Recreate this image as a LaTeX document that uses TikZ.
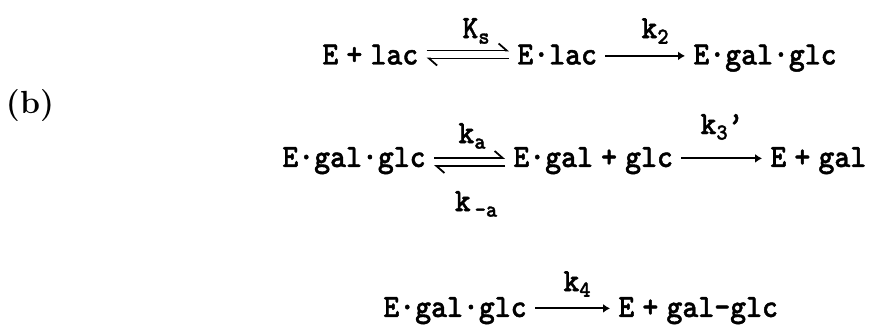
\documentclass[tikz,border=0pt]{standalone}
\usepackage{fontspec}
\usepackage{tikz}
\usetikzlibrary{arrows.meta}
\newfontfamily\chemfont{lmmonolt10-bold.otf}[FakeBold=1.3,FakeStretch=0.93]
\newcommand\chsub[1]{\raisebox{-0.4ex}{\fontsize{11.5}{12}\selectfont #1}}
\tikzset{
  chem/.style={anchor=west,inner xsep=4pt,inner ysep=0pt,text height=10pt,text depth=0pt,
    font=\fontsize{16.3}{18}\selectfont\chemfont},
  rate/.style={inner sep=0pt,font=\fontsize{16.3}{18}\selectfont\chemfont},
  fwd/.style={line width=0.9pt,-{Latex[length=3.5pt,width=4.5pt]}},
  harp/.style={line width=0.9pt,-{Straight Barb[left,length=4pt,width=7pt]}}
}
\begin{document}
\begin{tikzpicture}[x=0.5pt,y=-0.5pt]
\useasboundingbox (0,0) rectangle (877,325);
\node[inner sep=0pt,font=\fontsize{16}{18}\selectfont\bfseries] (tag) at (30,106) {(b)};
% binding of lactose
\node[chem] (elac0) at (314,54.5) {E\hspace{0.25em}+\hspace{0.25em}lac};
\node[chem] (elac) at (509,54.5) {E·lac};
\node[chem] (egg) at (685,54.5) {E·gal·glc};
\draw[harp] ([yshift=2pt]elac0.east) -- ([yshift=2pt]elac.west);
\draw[harp] ([yshift=-2pt]elac.west) -- ([yshift=-2pt]elac0.east);
\draw[fwd] ([yshift=-0.7pt]elac.east) -- ([yshift=-0.7pt]egg.west);
\node[rate] (ks) at (476,31) {K\chsub{s}};
\node[rate] (k2) at (655,31) {k\chsub{2}};
% release of glucose
\node[chem] (egg2) at (274,157) {E·gal·glc};
\node[chem] (egal) at (505,157) {E·gal\hspace{0.25em}+\hspace{0.25em}glc};
\node[chem] (egal2) at (762,157) {E\hspace{0.25em}+\hspace{0.25em}gal};
\draw[harp] ([yshift=-0.5pt]egg2.east) -- ([yshift=-0.5pt]egal.west);
\draw[harp] ([yshift=-4.5pt]egal.west) -- ([yshift=-4.5pt]egg2.east);
\draw[fwd] ([yshift=-0.7pt]egal.east) -- ([yshift=-0.7pt]egal2.west);
\node[rate] (ka) at (472,136) {k\chsub{a}};
\node[rate] (kma) at (476,204) {k\hspace{2pt}\chsub{-a}};
\node[rate] (k3) at (722,127) {k\chsub{3}’};
% transfer to glucose
\node[chem] (egg3) at (375,307) {E·gal·glc};
\node[chem] (egal3) at (610,307) {E\hspace{0.25em}+\hspace{0.25em}gal—glc};
\draw[fwd] ([yshift=-0.7pt]egg3.east) -- ([yshift=-0.7pt]egal3.west);
\node[rate] (k4) at (577,284) {k\chsub{4}};
\end{tikzpicture}
\end{document}
